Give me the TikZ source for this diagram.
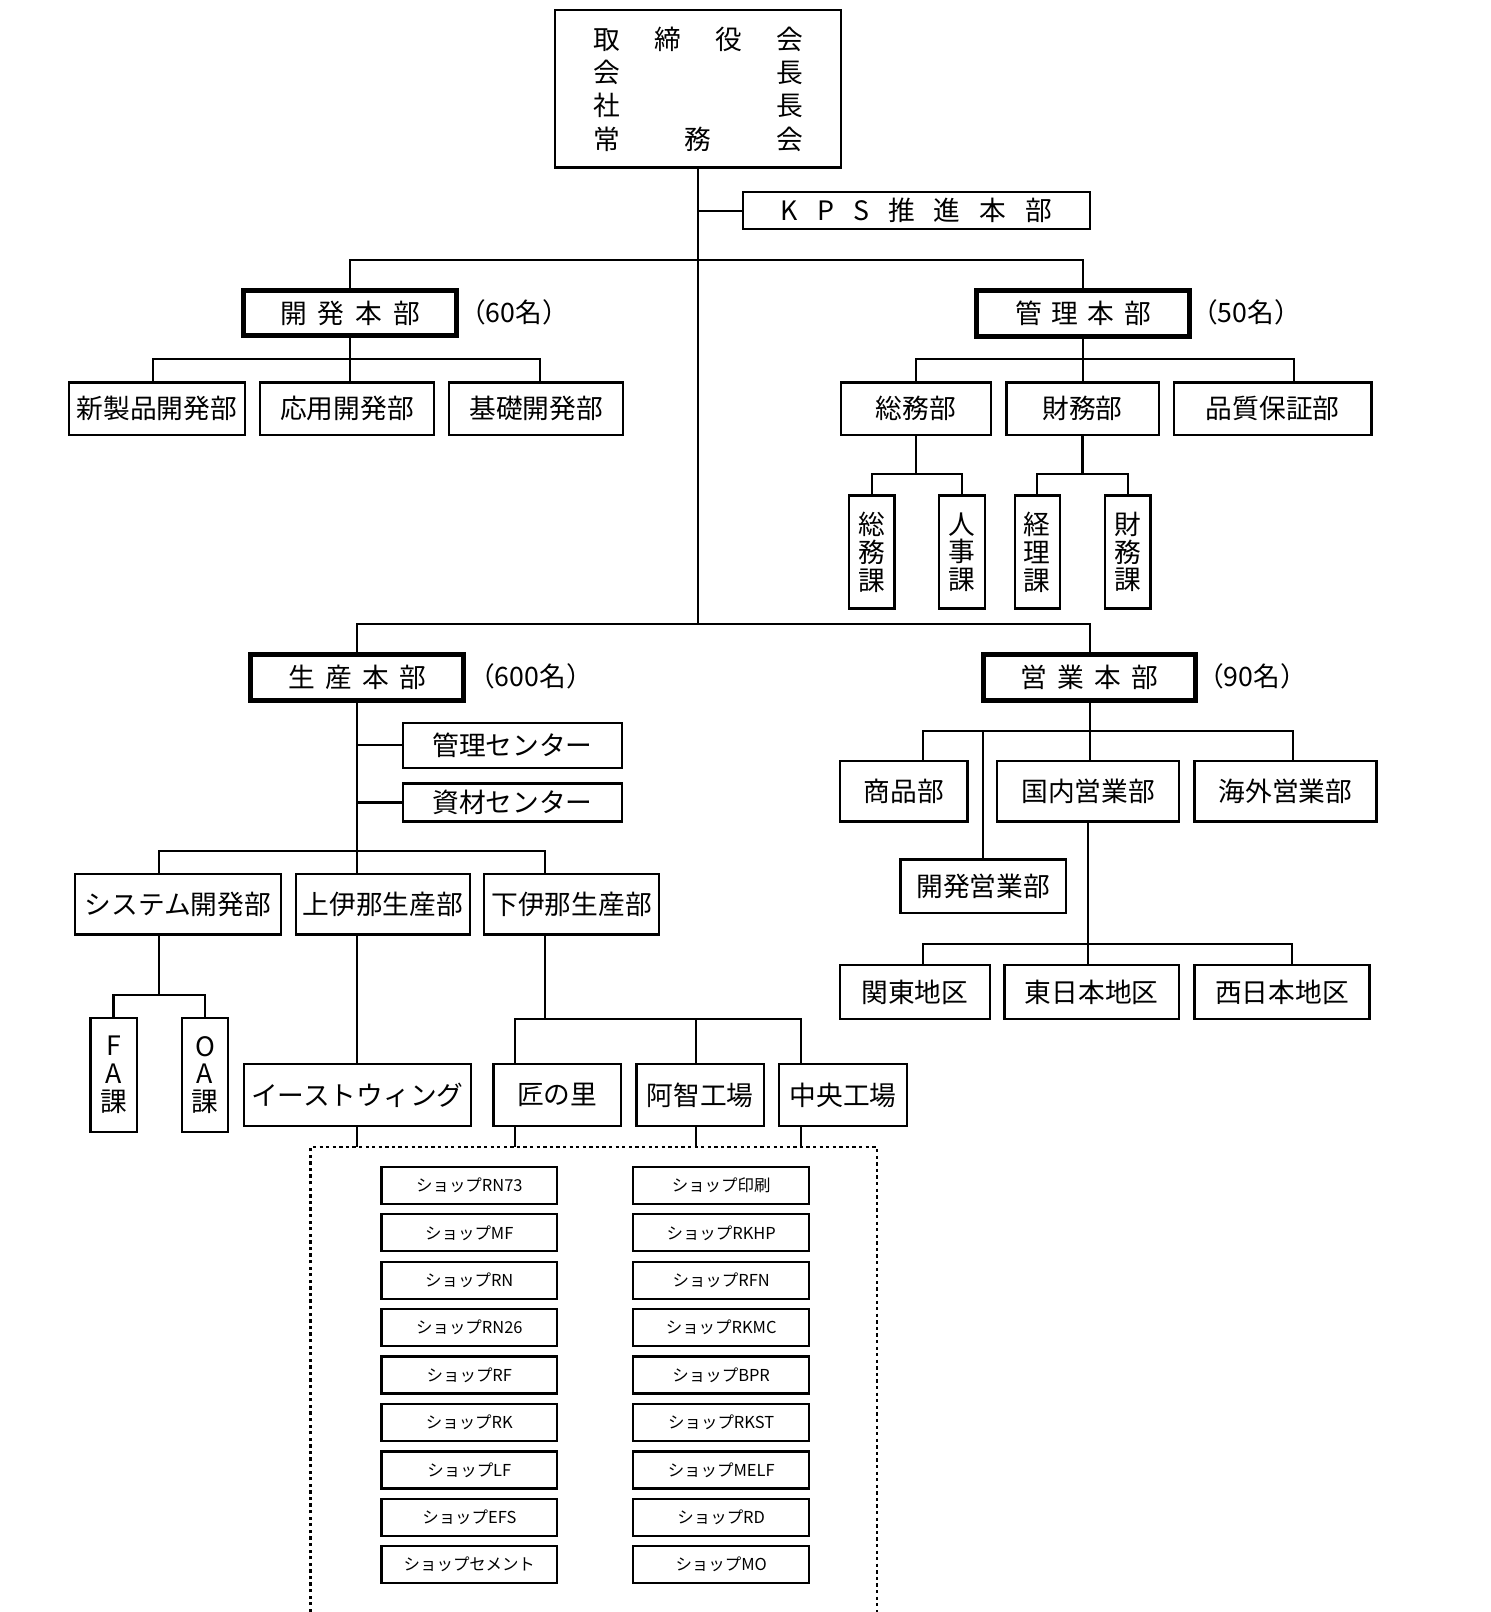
\documentclass[tikz,border=0pt]{standalone}
\usepackage{fontspec}
\setmainfont{Noto Sans CJK JP}
\usetikzlibrary{calc}
\tikzset{
  sz/.style 2 args={minimum width=#1*0.5pt, minimum height=#2*0.5pt},
  lnk/.style={line width=1.1pt},
  bx/.style={draw, line width=1.1pt, inner sep=0pt, font=\fontsize{13}{13}\selectfont},
  hq/.style={draw, line width=2.4pt, inner sep=0pt, font=\fontsize{13}{13}\selectfont},
  vb/.style={draw, line width=1.1pt, inner sep=0pt, align=center, font=\fontsize{13}{13.5}\selectfont},
  shopbox/.style={draw, line width=1.1pt, inner sep=0pt, sz={171}{36}, font=\fontsize{8}{8}\selectfont},
  cnt/.style={inner sep=0pt, font=\fontsize{13}{13}\selectfont},
  frame/.style={line width=1.1pt, dash pattern=on 1.6pt off 1.6pt},
}
\begin{document}
\begin{tikzpicture}[x=0.5pt,y=-0.5pt]
\useasboundingbox (0,0) rectangle (1450,1568);

% ---- top
\node[bx, sz={278}{153}, align=center, font=\fontsize{13}{16.2}\selectfont] (top) at (679,86.5)
  {\makebox[102pt]{取\hfill 締\hfill 役\hfill 会}\\
   \makebox[102pt]{会\hfill 長}\\
   \makebox[102pt]{社\hfill 長}\\
   \makebox[102pt]{常\hfill 務\hfill 会}};
\node[bx, sz={337}{36}] (kps) at (891.5,205)
  {\makebox[132pt]{K\hfill P\hfill S\hfill 推\hfill 進\hfill 本\hfill 部}};

% ---- headquarters
\node[hq, sz={207}{43}] (kh) at (340.5,304.5) {\makebox[68pt]{開\hfill 発\hfill 本\hfill 部}};
\node[cnt] (khn) at (500,304) {（60名）};
\node[hq, sz={207}{44}] (kr) at (1053.5,305) {\makebox[66pt]{管\hfill 理\hfill 本\hfill 部}};
\node[cnt] (krn) at (1212,304) {（50名）};
\node[hq, sz={207}{44}] (ss) at (347.5,659) {\makebox[67pt]{生\hfill 産\hfill 本\hfill 部}};
\node[cnt] (ssn) at (516,658) {（600名）};
\node[hq, sz={206}{44}] (eg) at (1060,659) {\makebox[67pt]{営\hfill 業\hfill 本\hfill 部}};
\node[cnt] (egn) at (1218,658) {（90名）};

% ---- development
\node[bx, sz={171}{51}] (k1) at (152.5,397.5) {新製品開発部};
\node[bx, sz={169}{51}] (k2) at (337.5,397.5) {応用開発部};
\node[bx, sz={169}{51}] (k3) at (521.5,397.5) {基礎開発部};

% ---- administration
\node[bx, sz={146}{51}] (r1) at (891,397.5) {総務部};
\node[bx, sz={148}{51}] (r2) at (1053,397.5) {財務部};
\node[bx, sz={192}{51}] (r3) at (1238,397.5) {品質保証部};
\node[vb, sz={44}{110}] (v1) at (848,537) {総\\務\\課};
\node[vb, sz={45}{110}] (v2) at (935.5,537) {人\\事\\課};
\node[vb, sz={44}{110}] (v3) at (1009,537) {経\\理\\課};
\node[vb, sz={44}{110}] (v4) at (1097,537) {財\\務\\課};

% ---- production
\node[bx, sz={213}{44}] (m1) at (498.5,725) {管理センター};
\node[bx, sz={213}{37}] (m2) at (498.5,780.5) {資材センター};
\node[bx, sz={200}{59}] (p1) at (173,879.5) {システム開発部};
\node[bx, sz={169}{59}] (p2) at (372.5,879.5) {上伊那生産部};
\node[bx, sz={170}{59}] (p3) at (556,879.5) {下伊那生産部};
\node[vb, sz={45}{111}] (fa) at (110.5,1045.5) {F\\A\\課};
\node[vb, sz={45}{111}] (oa) at (199.5,1045.5) {O\\A\\課};
\node[bx, sz={221}{60}] (e1) at (347.5,1065) {イーストウィング};
\node[bx, sz={124}{60}] (e2) at (542,1065) {匠の里};
\node[bx, sz={124}{60}] (e3) at (681,1065) {阿智工場};
\node[bx, sz={124}{60}] (e4) at (820,1065) {中央工場};

% ---- sales
\node[bx, sz={124}{59}] (s1) at (879,769.5) {商品部};
\node[bx, sz={177}{59}] (s2) at (1058.5,769.5) {国内営業部};
\node[bx, sz={177}{59}] (s3) at (1250.5,769.5) {海外営業部};
\node[bx, sz={161}{52}] (s4) at (956.5,862) {開発営業部};
\node[bx, sz={146}{52}] (t1) at (890,965) {関東地区};
\node[bx, sz={170}{52}] (t2) at (1062,965) {東日本地区};
\node[bx, sz={170}{52}] (t3) at (1247,965) {西日本地区};

% ---- shops
\foreach \t [count=\i from 0] in {RN73,MF,RN,RN26,RF,RK,LF,EFS,セメント}
  \node[shopbox] (L\i) at (456.5,{1153+\i*46.125}) {ショップ\t};
\foreach \t [count=\i from 0] in {印刷,RKHP,RFN,RKMC,BPR,RKST,MELF,RD,MO}
  \node[shopbox] (R\i) at (701.5,{1153+\i*46.125}) {ショップ\t};

% ---- junction levels
\coordinate (yA) at (0,253);
\coordinate (yB) at (0,349);
\coordinate (yC) at (0,461);
\coordinate (yD) at (0,607);
\coordinate (yE) at (0,828);
\coordinate (yF) at (0,968);
\coordinate (yG) at (0,991);
\coordinate (yH) at (0,711);
\coordinate (yI) at (0,918);
\coordinate (fl) at (302,1116);
\coordinate (fr) at (853,1116);
\coordinate (flb) at (302,1568);
\coordinate (frb) at (853,1568);

% ---- connectors
\draw[lnk] (top.south) -- (top.south |- yD);
\draw[lnk] (kps.west) -- (kps.west -| top.south);
\draw[lnk] (kh.north) -- (kh.north |- yA) -- (kr.north |- yA) -- (kr.north);
\draw[lnk] (ss.north) -- (ss.north |- yD) -- (eg.north |- yD) -- (eg.north);

% development
\draw[lnk] (kh.south) -- (kh.south |- k2.north);
\coordinate (k1t) at ($(k1.north)+(-3.5,0)$);
\coordinate (k3t) at ($(k3.north)+(3.5,0)$);
\draw[lnk] (k1t) -- (k1t |- yB) -- (k3t |- yB) -- (k3t);

% administration
\draw[lnk] (kr.south) -- (kr.south |- r2.north);
\coordinate (r3t) at ($(r3.north)+(21,0)$);
\draw[lnk] (r1.north) -- (r1.north |- yB) -- (r3t |- yB) -- (r3t);
\draw[lnk] (r1.south) -- (r1.south |- yC);
\draw[lnk] (v1.north) -- (v1.north |- yC) -- (v2.north |- yC) -- (v2.north);
\draw[lnk] (r2.south) -- (r2.south |- yC);
\draw[lnk] (v3.north) -- (v3.north |- yC) -- (v4.north |- yC) -- (v4.north);

% production
\draw[lnk] (ss.south) -- (ss.south |- p2.north);
\draw[lnk] (m1.west) -- (m1.west -| ss.south);
\draw[lnk] (m2.west) -- (m2.west -| ss.south);
\coordinate (p1t) at ($(p1.north)+(-18,0)$);
\coordinate (p1b) at ($(p1.south)+(-18,0)$);
\coordinate (p3t) at ($(p3.north)+(-26,0)$);
\coordinate (p3b) at ($(p3.south)+(-26,0)$);
\draw[lnk] (p1t) -- (p1t |- yE) -- (p3t |- yE) -- (p3t);
\draw[lnk] (p1b) -- (p1b |- yF);
\draw[lnk] (fa.north) -- (fa.north |- yF) -- (oa.north |- yF) -- (oa.north);
\draw[lnk] (ss.south |- p2.south) -- (ss.south |- e1.north);
\draw[lnk] (p3b) -- (p3b |- yG);
\coordinate (e2t) at ($(e2.north)+(-41,0)$);
\coordinate (e2b) at ($(e2.south)+(-41,0)$);
\coordinate (e3t) at ($(e3.north)+(-4,0)$);
\coordinate (e3b) at ($(e3.south)+(-4,0)$);
\coordinate (e4t) at ($(e4.north)+(-41,0)$);
\coordinate (e4b) at ($(e4.south)+(-41,0)$);
\draw[lnk] (e2t) -- (e2t |- yG) -- (e4t |- yG) -- (e4t);
\draw[lnk] (e3t) -- (e3t |- yG);
\draw[lnk] (e1.south) -- (e1.south |- fl);
\draw[lnk] (e2b) -- (e2b |- fl);
\draw[lnk] (e3b) -- (e3b |- fl);
\draw[lnk] (e4b) -- (e4b |- fl);
\draw[frame] (flb) -- (fl) -- (fr) -- (frb);

% sales
\draw[lnk] (eg.south) -- (eg.south |- s2.north);
\coordinate (s1t) at ($(s1.north)+(19,0)$);
\coordinate (s3t) at ($(s3.north)+(7.5,0)$);
\draw[lnk] (s1t) -- (s1t |- yH) -- (s3t |- yH) -- (s3t);
\draw[lnk] (s4.north) -- (s4.north |- yH);
\draw[lnk] (s2.south) -- (s2.south |- t2.north);
\coordinate (t1t) at ($(t1.north)+(8,0)$);
\coordinate (t3t) at ($(t3.north)+(10,0)$);
\draw[lnk] (t1t) -- (t1t |- yI) -- (t3t |- yI) -- (t3t);
\end{tikzpicture}
\end{document}
